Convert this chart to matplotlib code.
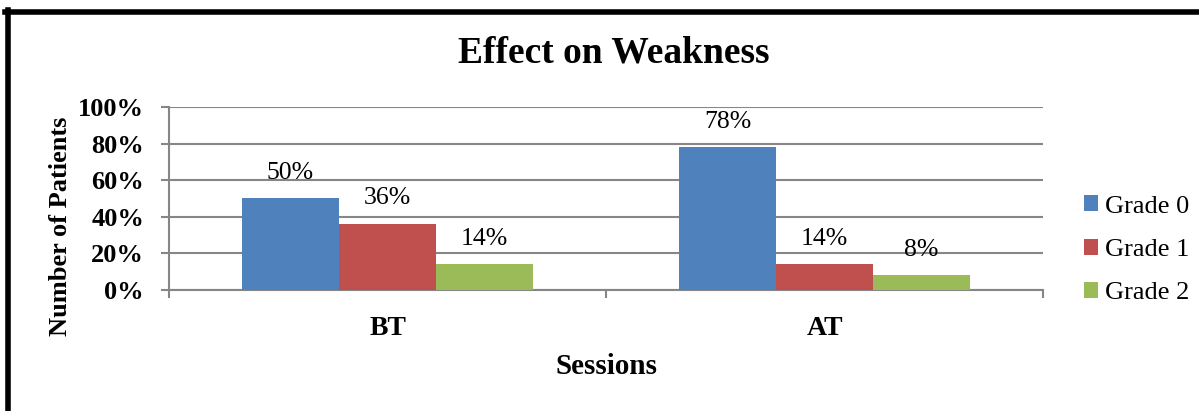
import matplotlib.pyplot as plt
from matplotlib.lines import Line2D
from matplotlib.patches import Patch
import numpy as np

# Percentage of patients per weakness grade, before (BT) and after (AT) treatment
sessions = ["BT", "AT"]
grades = ["Grade 0", "Grade 1", "Grade 2"]
grade_0 = [50, 78]
grade_1 = [36, 14]
grade_2 = [14, 8]
yticks = [0, 20, 40, 60, 80, 100]

colors = ["#4F81BD", "#C0504D", "#9BBB59"]
grid_color = "#868686"

plt.rcParams['font.family'] = ['Liberation Serif', 'DejaVu Serif']

fig = plt.figure(figsize=(11.99, 4.11), dpi=100)
ax = fig.add_axes([0.141, 0.2944, 0.729, 0.4453])

x = np.arange(len(sessions))
width = 0.222
series = [grade_0, grade_1, grade_2]
for i, (vals, name, col) in enumerate(zip(series, grades, colors)):
    pos = x + (i - 1) * width
    ax.bar(pos, vals, width, color=col, label=name, zorder=3)
    for px, v in zip(pos, vals):
        ax.annotate(f"{v}%", (px, v), xytext=(0, 18.5), textcoords='offset points',
                    ha='center', va='center', fontsize=18.5)

ax.set_xlim(-0.5, len(sessions) - 0.5)
ax.set_ylim(0, 100)
ax.set_yticks(yticks)
ax.set_yticklabels([f"{t}%" for t in yticks], fontsize=19, fontweight='bold')
ax.yaxis.grid(True, color=grid_color, linewidth=1.5, zorder=0)

# category labels sit under each group, tick marks between groups
ax.set_xticks(x)
ax.set_xticklabels(sessions, fontsize=20, fontweight='bold')
ax.tick_params(axis='x', length=0, pad=19)
ax.set_xticks(np.arange(len(sessions) + 1) - 0.5, minor=True)
ax.tick_params(axis='x', which='minor', length=6, color=grid_color, width=1.5)
ax.tick_params(axis='y', length=6, color=grid_color, width=1.5, pad=12)

for side in ['top', 'right']:
    ax.spines[side].set_visible(False)
for side in ['left', 'bottom']:
    ax.spines[side].set_color(grid_color)
    ax.spines[side].set_linewidth(1.5)

ax.set_xlabel("Sessions", fontsize=21, fontweight='bold', labelpad=8)
ax.set_ylabel("Number of Patients", fontsize=19, fontweight='bold')
ax.yaxis.set_label_coords(-0.111, 0.35)
fig.text(0.512, 0.872, "Effect on Weakness", ha='center', va='center',
         fontsize=27, fontweight='bold')

handles = [Patch(facecolor=c, edgecolor='none') for c in colors]
fig.legend(handles, grades, loc='center left', bbox_to_anchor=(0.893, 0.392),
           frameon=False, fontsize=19, handlelength=0.55, handleheight=0.55,
           handletextpad=0.25, labelspacing=0.8, borderpad=0)

# outer frame (left and top edges)
fig.add_artist(Line2D([0.0065, 0.0065], [0, 0.975], transform=fig.transFigure,
                      color='black', linewidth=4))
fig.add_artist(Line2D([0.0045, 1.0], [0.972, 0.972], transform=fig.transFigure,
                      color='black', linewidth=4))

fig.savefig("out.png", dpi=100)
